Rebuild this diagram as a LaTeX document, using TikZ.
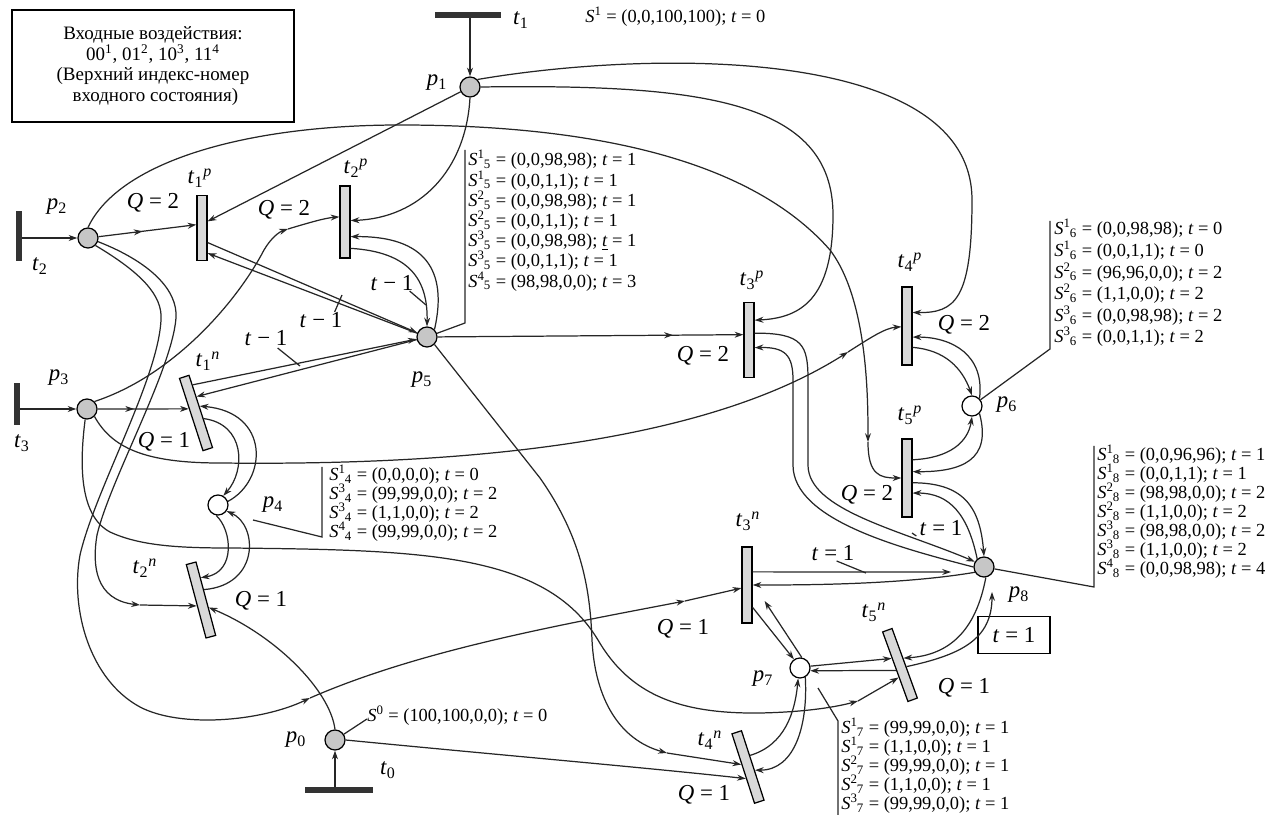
\documentclass[tikz,border=0pt]{standalone}
\usepackage{fontspec}
\setmainfont{Liberation Serif}
\usetikzlibrary{arrows.meta,calc,decorations.markings}
\newcommand\pl[1]{\textit{p}\textsubscript{#1}}
\newcommand\tl[2]{\textit{t}\textsubscript{#1}\textsuperscript{\textit{#2}}}
\newcommand\tz[1]{\textit{t}\textsubscript{#1}}
\newcommand\Ss[2]{\textit{S}\textsuperscript{#1}\kern-0.6pt\textsubscript{#2}}
\lineskiplimit=-30pt
\begin{document}
\begin{tikzpicture}[x=0.02cm,y=-0.02cm,
  ln/.style={line width=0.7pt,draw=black!85},
  arr/.style={ln,-{Stealth[length=5pt,width=3.4pt]}},
  marr/.style={postaction={decorate},decoration={markings,mark=at position #1 with {\arrow{Stealth[length=5pt,width=3.4pt]}}}},
  place/.style={circle,draw,line width=0.7pt,minimum size=0.4cm,inner sep=0pt,fill=gray!45},
  wplace/.style={place,fill=white},
  tr/.style={rectangle,draw,line width=0.7pt,fill=gray!30,minimum width=0.2cm,inner sep=0pt},
  ibar/.style={fill=black!80,inner sep=0pt,draw=none},
  lbl/.style={font=\fontsize{13}{13}\selectfont,inner sep=0pt},
  blk/.style={font=\fontsize{10.5}{#1}\selectfont,align=left,inner sep=0pt},
  box/.style={draw,line width=0.7pt,font=\fontsize{10.8}{11.6}\selectfont,align=center,inner sep=0pt}]
\useasboundingbox (0,0) rectangle (1276,817);

% ---------- input box
\node[box,minimum width=5.64cm,minimum height=2.24cm] (inbox) at (153,66)
 {Входные воздействия:\\ 00\textsuperscript{1}, 01\textsuperscript{2}, 10\textsuperscript{3}, 11\textsuperscript{4}\\
  (Верхний индекс-номер\\ \ входного состояния)};

% ---------- places
\node[place] (p1) at (470,87) {};
\node[place] (p2) at (88,238) {};
\node[place] (p3) at (87,409) {};
\node[place] (p5) at (427,337) {};
\node[wplace] (p4) at (218,505) {};
\node[wplace] (p6) at (972,406) {};
\node[place] (p8) at (984,567) {};
\node[wplace] (p7) at (800,668) {};
\node[place] (p0) at (335,740) {};

% ---------- transitions
\node[tr,minimum height=1.3cm] (t1p) at (202,228) {};
\node[tr,minimum height=1.44cm] (t2p) at (345,222) {};
\node[tr,minimum height=1.5cm] (t3p) at (749,340) {};
\node[tr,minimum height=1.56cm] (t4p) at (907,326) {};
\node[tr,minimum height=1.56cm] (t5p) at (907,478) {};
\node[tr,minimum height=1.52cm,rotate=18] (t1n) at (196,413) {};
\node[tr,minimum height=1.52cm,rotate=15] (t2n) at (201,600) {};
\node[tr,minimum height=1.52cm] (t3n) at (747,585) {};
\node[tr,minimum height=1.46cm,rotate=18] (t4n) at (748,767) {};
\node[tr,minimum height=1.48cm,rotate=20] (t5n) at (900,665) {};

% ---------- input transitions
\node[ibar,minimum width=1.34cm,minimum height=0.11cm] (t1) at (468,15) {};
\node[ibar,minimum width=0.12cm,minimum height=1.0cm] (t2) at (19,236) {};
\node[ibar,minimum width=0.12cm,minimum height=0.86cm] (t3) at (17,404) {};
\node[ibar,minimum width=1.36cm,minimum height=0.11cm] (t0) at (339,790) {};

% ---------- labels
\node[lbl] at (437,83) {\pl{1}};
\node[lbl] at (57,207) {\pl{2}};
\node[lbl] at (59,378) {\pl{3}};
\node[lbl] at (273,505) {\pl{4}};
\node[lbl] at (422,380) {\pl{5}};
\node[lbl] at (1007,405) {\pl{6}};
\node[lbl] at (763,679) {\pl{7}};
\node[lbl] at (1019,595) {\pl{8}};
\node[lbl] at (296,740) {\pl{0}};
\node[lbl] at (521,20) {\tz{1}};
\node[lbl] at (40,266) {\tz{2}};
\node[lbl] at (22,443) {\tz{3}};
\node[lbl] at (388,770) {\tz{0}};
\node[lbl] at (200,178) {\tl{1}{p}};
\node[lbl] at (356,168) {\tl{2}{p}};
\node[lbl] at (752,280) {\tl{3}{p}};
\node[lbl] at (910,262) {\tl{4}{p}};
\node[lbl] at (910,415) {\tl{5}{p}};
\node[lbl] at (208,361) {\tl{1}{n}};
\node[lbl] at (145,568) {\tl{2}{n}};
\node[lbl] at (748,521) {\tl{3}{n}};
\node[lbl] at (710,740) {\tl{4}{n}};
\node[lbl] at (874,612) {\tl{5}{n}};

\node[lbl] at (153,203) {\textit{Q} = 2};
\node[lbl] at (284,210) {\textit{Q} = 2};
\node[lbl] at (703,356) {\textit{Q} = 2};
\node[lbl] at (964,325) {\textit{Q} = 2};
\node[lbl] at (867,495) {\textit{Q} = 2};
\node[lbl] at (164,442) {\textit{Q} = 1};
\node[lbl] at (261,601) {\textit{Q} = 1};
\node[lbl] at (683,629) {\textit{Q} = 1};
\node[lbl] at (704,795) {\textit{Q} = 1};
\node[lbl] at (964,688) {\textit{Q} = 1};

\node[lbl] (m1) at (392,283) {\textit{t} − 1};
\node[lbl] (m2) at (321,320) {\textit{t} − 1};
\node[lbl] (m3) at (266,338) {\textit{t} − 1};
\node[lbl] (e1) at (941,528) {\textit{t} = 1};
\node[lbl] (e2) at (833,553) {\textit{t} = 1};
\node[lbl,draw,line width=0.7pt,minimum width=1.44cm,minimum height=0.74cm] (e3) at (1014,635) {\textit{t} = 1};

% ---------- state blocks
\node[blk=11,anchor=west] (s1) at (585,17) {\Ss{1}{} = (0,0,100,100); \textit{t} = 0};
\node[blk=11,anchor=west] (s0) at (367,716) {\Ss{0}{} = (100,100,0,0); \textit{t} = 0};
\node[blk=11.5,anchor=north west] (s5) at (468,150) {%
\Ss{1}{5} = (0,0,98,98); \textit{t} = 1\\
\Ss{1}{5} = (0,0,1,1); \textit{t} = 1\\
\Ss{2}{5} = (0,0,98,98); \textit{t} = 1\\
\Ss{2}{5} = (0,0,1,1); \textit{t} = 1\\
\Ss{3}{5} = (0,0,98,98); \underline{\textit{t}} = 1\\
\Ss{3}{5} = (0,0,1,1); \textit{t} = 1\\
\Ss{4}{5} = (98,98,0,0); \textit{t} = 3};
\node[blk=12.3,anchor=north west] (s6) at (1054,219) {%
\Ss{1}{6} = (0,0,98,98); \textit{t} = 0\\
\Ss{1}{6} = (0,0,1,1); \textit{t} = 0\\
\Ss{2}{6} = (96,96,0,0); \textit{t} = 2\\
\Ss{2}{6} = (1,1,0,0); \textit{t} = 2\\
\Ss{3}{6} = (0,0,98,98); \textit{t} = 2\\
\Ss{3}{6} = (0,0,1,1); \textit{t} = 2};
\node[blk=10.8,anchor=north west] (s8) at (1097,445) {%
\Ss{1}{8} = (0,0,96,96); \textit{t} = 1\\
\Ss{1}{8} = (0,0,1,1); \textit{t} = 1\\
\Ss{2}{8} = (98,98,0,0); \textit{t} = 2\\
\Ss{2}{8} = (1,1,0,0); \textit{t} = 2\\
\Ss{3}{8} = (98,98,0,0); \textit{t} = 2\\
\Ss{3}{8} = (1,1,0,0); \textit{t} = 2\\
\Ss{4}{8} = (0,0,98,98); \textit{t} = 4};
\node[blk=10.8,anchor=north west] (s4) at (329,465) {%
\Ss{1}{4} = (0,0,0,0); \textit{t} = 0\\
\Ss{3}{4} = (99,99,0,0); \textit{t} = 2\\
\Ss{3}{4} = (1,1,0,0); \textit{t} = 2\\
\Ss{4}{4} = (99,99,0,0); \textit{t} = 2};
\node[blk=10.8,anchor=north west] (s7) at (841,718) {%
\Ss{1}{7} = (99,99,0,0); \textit{t} = 1\\
\Ss{1}{7} = (1,1,0,0); \textit{t} = 1\\
\Ss{2}{7} = (99,99,0,0); \textit{t} = 1\\
\Ss{2}{7} = (1,1,0,0); \textit{t} = 1\\
\Ss{3}{7} = (99,99,0,0); \textit{t} = 1};

% leaders
\draw[ln] (p5) -- ($(s5.north west)+(-3,173)$) -- ($(s5.north west)+(-3,0)$);
\draw[ln] (p6) -- ($(s6.north west)+(-4,130)$) -- ($(s6.north west)+(-4,2)$);
\draw[ln] (p8) -- ($(s8.north west)+(-3,142)$) -- ($(s8.north west)+(-3,1)$);
\draw[ln] ($(p4)+(35,15)$) -- ($(s4.north west)+(-7,72)$) -- ($(s4.north west)+(-7,2)$);
\draw[ln] ($(p7)+(18,20)$) -- ($(s7.north west)+(-3,3)$) -- ($(s7.north west)+(-3,97)$);
\draw[ln] (p0) -- ($(s0.west)+(0,3)$);

% ---------- input arcs
\draw[arr] (t1.south -| p1) -- (p1.north);
\draw[arr] (t2.east |- p2) -- (p2.west);
\draw[arr] (t3.east |- p3) -- (p3.west);
\draw[arr] (t0.north -| p0) -- (p0.south);

% ---------- p1 arcs
\draw[arr] (p1) -- ($(t1p.north east)!0.4!(t1p.south east)$);
\draw[arr] (p1.south) .. controls (466,170) and (420,218) .. ($(t2p.north east)!0.48!(t2p.south east)$);
\draw[arr] (p1.east) .. controls (700,84) and (833,100) .. (833,215) .. controls (833,300) and (800,318) .. ($(t3p.north east)!0.24!(t3p.south east)$);
\draw[arr] (p1.north east) .. controls (650,50) and (972,45) .. (972,200) .. controls (972,300) and (955,313) .. ($(t4p.north east)!0.33!(t4p.south east)$);

% ---------- p2 arcs
\draw[arr,marr=0.45] (p2) -- ($(t1p.north west)!0.45!(t1p.south west)$);
\coordinate (k1) at (868,442);
\draw[arr] (p2.north) .. controls (120,160) and (250,125) .. (400,125) .. controls (620,125) and (760,170) .. (830,250) .. controls (868,300) and (868,400) .. (k1);
\draw[arr] (k1) .. controls (868,475) and (880,478) .. ($(t5p.north west)!0.5!(t5p.south west)$);
% band from p2: inner line to t2n, outer line to t3n
\coordinate (k5) at (140,605);
\draw[arr] (p2.-20) .. controls (150,262) and (178,290) .. (176,318) .. controls (172,370) and (110,480) .. (97,535) .. controls (92,565) and (95,600) .. (k5);
\draw[arr] (k5) -- ($(t2n.north west)!0.56!(t2n.south west)$);
\coordinate (k0) at (310,698);
\draw[arr] (p2.-45) .. controls (140,272) and (163,295) .. (161,320) .. controls (158,380) and (95,490) .. (80,555) .. controls (70,610) and (90,680) .. (140,707) .. controls (180,728) and (260,722) .. (k0);
\coordinate (k2) at (685,601);
\draw[arr] (k0) .. controls (420,650) and (560,625) .. (k2);
\draw[arr] (k2) -- ($(t3n.north west)!0.54!(t3n.south west)$);

% ---------- p3 arcs
\draw[arr,marr=0.4] (p3) -- ($(t1n.north west)!0.42!(t1n.south west)$);
\coordinate (k3) at (288,229);
\draw[arr] (p3.north east) .. controls (175,375) and (238,300) .. (264,250) .. controls (271,238) and (279,232) .. (k3);
\draw[arr] (k3) .. controls (308,223) and (325,218) .. ($(t2p.north west)!0.43!(t2p.south west)$);
\coordinate (k4) at (848,352);
\draw[arr] (p3.south east) .. controls (112,448) and (145,463) .. (220,463) .. controls (480,466) and (710,440) .. (k4);
\draw[arr] (k4) .. controls (870,338) and (885,328) .. ($(t4p.north west)!0.51!(t4p.south west)$);
\coordinate (k6) at (858,701);
\draw[arr] (p3.-100) .. controls (80,460) and (78,515) .. (110,532) .. controls (140,546) and (180,548) .. (230,548) .. controls (420,550) and (545,552) .. (598,640) .. controls (630,695) and (680,714) .. (760,713) .. controls (810,712) and (840,706) .. (k6);
\draw[arr] (k6) -- ($(t5n.north west)!0.65!(t5n.south west)$);

% ---------- p5 arcs
\draw[arr] ($(t1p.north east)!0.72!(t1p.south east)$) -- (p5);
\draw[arr] (p5) -- ($(t1p.north east)!0.88!(t1p.south east)$);
\draw[arr] ($(t2p.north east)!0.86!(t2p.south east)$) .. controls (410,252) and (428,280) .. (p5.north);
\draw[arr] (p5.north east) .. controls (448,270) and (425,236) .. ($(t2p.north east)!0.7!(t2p.south east)$);
\draw[arr] ($(t1n.north east)!0.14!(t1n.south east)$) -- (p5);
\draw[arr] (p5) -- ($(t1n.north east)!0.3!(t1n.south east)$);
\draw[arr,marr=0.77] (p5) -- ($(t3p.north west)!0.43!(t3p.south west)$);
\coordinate (k7) at (667,753);
\draw[arr] (p5.south east) -- (540,478) .. controls (580,535) and (590,585) .. (592,640) .. controls (595,700) and (620,740) .. (k7);
\draw[arr] (k7) -- ($(t4n.north west)!0.44!(t4n.south west)$);
% ticks
\draw[ln] ($(m1.south east)+(-4,0)$) -- (426,305);
\draw[ln] ($(m2.north east)+(-8,0)$) -- (342,295);
\draw[ln] ($(m3.south east)+(-10,2)$) -- (300,366);

% ---------- p4 arcs
\draw[arr] ($(t1n.north east)!0.6!(t1n.south east)$) .. controls (245,424) and (246,470) .. (p4.60);
\draw[arr] (p4.20) .. controls (268,480) and (270,412) .. ($(t1n.north east)!0.43!(t1n.south east)$);
\draw[arr] (p4.-100) .. controls (232,530) and (236,572) .. ($(t2n.north east)!0.22!(t2n.south east)$);
\draw[arr] ($(t2n.north east)!0.38!(t2n.south east)$) .. controls (260,585) and (258,525) .. (p4.-35);

% ---------- p0 arcs
\draw[arr] (p0.north) .. controls (330,690) and (275,635) .. ($(t2n.north east)!0.62!(t2n.south east)$);
\draw[arr] (p0.east) .. controls (500,755) and (650,768) .. ($(t4n.north west)!0.64!(t4n.south west)$);

% ---------- p6 arcs
\draw[arr] (p6.north east) .. controls (985,355) and (952,337) .. ($(t4p.north east)!0.64!(t4p.south east)$);
\draw[arr] ($(t4p.north east)!0.77!(t4p.south east)$) .. controls (945,350) and (962,368) .. (p6.north);
\draw[arr] ($(t5p.north east)!0.27!(t5p.south east)$) .. controls (950,458) and (968,442) .. (p6.south);
\draw[arr] (p6.south east) .. controls (992,460) and (962,472) .. ($(t5p.north east)!0.42!(t5p.south east)$);

% ---------- p8 arcs
\draw[arr] ($(t5p.north east)!0.56!(t5p.south east)$) .. controls (962,483) and (980,505) .. (p8.north);
\draw[arr] (p8.130) .. controls (968,515) and (950,493) .. ($(t5p.north east)!0.69!(t5p.south east)$);
\draw[arr] ($(t3p.north east)!0.41!(t3p.south east)$) .. controls (803,333) and (808,345) .. (808,380) -- (808,465) .. controls (808,510) and (900,530) .. (p8.150);
\draw[arr] (p8.180) .. controls (900,548) and (793,520) .. (793,465) -- (793,380) .. controls (793,355) and (785,347) .. ($(t3p.north east)!0.6!(t3p.south east)$);
\draw[ln] ($(e1.west)+(-3,8)$) -- (912,533);
\coordinate (k8) at ($(p8)+(-33,5)$);
\draw[arr] ($(t3n.north east)!0.33!(t3n.south east)$) -- (k8);
\draw[arr] (p8.-150) .. controls (900,585) and (800,585) .. ($(t3n.north east)!0.5!(t3n.south east)$);
\draw[ln] ($(e2.south east)+(-18,0)$) -- (866,573);
\coordinate (k9) at ($(p8)+(8,25)$);
\draw[arr] (p8.-80) .. controls (976,630) and (950,655) .. ($(t5n.north east)!0.43!(t5n.south east)$);
\draw[arr] ($(t5n.north east)!0.55!(t5n.south east)$) .. controls (960,655) and (992,640) .. (k9);

% ---------- p7 arcs
\draw[arr] ($(t3n.north east)!0.79!(t3n.south east)$) -- (p7.125);
\coordinate (k10) at ($(t3n.east)+(12,16)$);
\draw[arr] (p7.80) -- (k10);
\draw[arr] (p7.10) -- ($(t5n.north west)!0.38!(t5n.south west)$);
\draw[arr] ($(t5n.north west)!0.55!(t5n.south west)$) -- (p7.-15);
\draw[arr] ($(t4n.north east)!0.36!(t4n.south east)$) .. controls (785,745) and (795,712) .. (p7.-100);
\draw[arr] (p7.-60) .. controls (808,725) and (795,770) .. ($(t4n.north east)!0.57!(t4n.south east)$);
\end{tikzpicture}
\end{document}
